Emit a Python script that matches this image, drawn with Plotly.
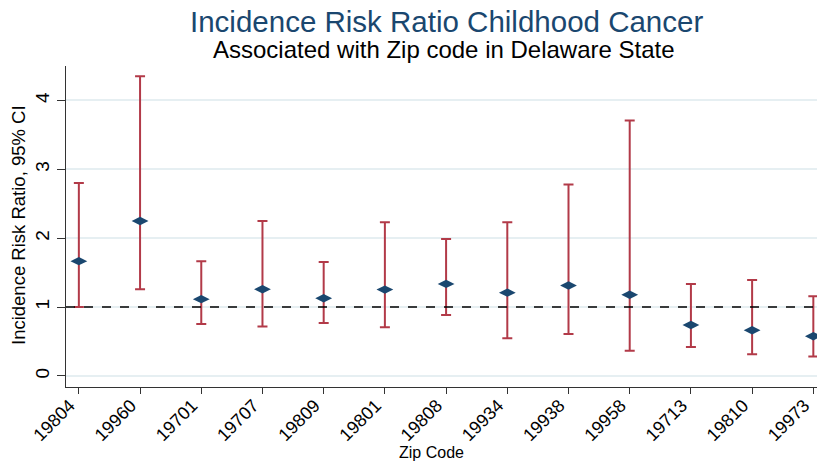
import plotly.graph_objects as go

zips = ["19804", "19960", "19701", "19707", "19809", "19801", "19808",
        "19934", "19938", "19958", "19713", "19810", "19973"]
irr = [1.667, 2.25, 1.115, 1.26, 1.129, 1.254, 1.337, 1.21, 1.313, 1.18, 0.741, 0.664, 0.577]
ci_low = [1.0, 1.26, 0.756, 0.717, 0.770, 0.707, 0.887, 0.547, 0.61, 0.368, 0.42, 0.315, 0.281]
ci_high = [2.80, 4.35, 1.667, 2.25, 1.653, 2.23, 1.99, 2.23, 2.78, 3.71, 1.337, 1.395, 1.158]
y_ticks = [0, 1, 2, 3, 4]
ref_value = 1

FONT = "Liberation Sans, Arial, sans-serif"
x_idx = list(range(len(zips)))

L, T, B = 66, 66, 76
W, H = 817, 463

fig = go.Figure()
fig.add_trace(go.Scatter(
    x=x_idx, y=irr, mode="markers",
    marker=dict(symbol="diamond-wide", size=12, color="#1a476f"),
    error_y=dict(type="data", symmetric=False,
                 array=[h - v for h, v in zip(ci_high, irr)],
                 arrayminus=[v - l for v, l in zip(irr, ci_low)],
                 color="#b23a48", thickness=2, width=5),
    showlegend=False,
))

fig.add_hline(y=ref_value, line=dict(color="black", width=1.5, dash="dash"), layer="above")

annots = [
    dict(text="Incidence Risk Ratio Childhood Cancer", xref="paper", yref="paper",
         x=0, y=1, xanchor="center", yanchor="middle", xshift=446 - L, yshift=T - 21,
         showarrow=False, font=dict(size=29.5, color="#1a476f")),
    dict(text="Associated with Zip code in Delaware State", xref="paper", yref="paper",
         x=0, y=1, xanchor="center", yanchor="middle", xshift=444 - L, yshift=T - 49,
         showarrow=False, font=dict(size=24, color="black")),
    dict(text="Zip Code", xref="paper", yref="paper",
         x=0, y=0, xanchor="center", yanchor="middle", xshift=431 - L, yshift=-(452 - (H - B)),
         showarrow=False, font=dict(size=16, color="black")),
    dict(text="Incidence Risk Ratio, 95% CI", xref="paper", yref="paper",
         x=0, y=0, xanchor="center", yanchor="middle", xshift=18 - L, yshift=(H - B) - 225,
         textangle=-90, showarrow=False, font=dict(size=18.5, color="black")),
]

fig.update_layout(
    width=W, height=H,
    margin=dict(l=L, r=0, t=T, b=B, autoexpand=False),
    paper_bgcolor="white", plot_bgcolor="white",
    font=dict(family=FONT, color="black"),
    annotations=annots,
    xaxis=dict(range=[-0.21, 12.06], tickmode="array", tickvals=x_idx, ticktext=zips,
               tickangle=-45, ticks="outside", ticklen=6, tickcolor="#333",
               showline=True, linecolor="#333", linewidth=1, showgrid=False, zeroline=False,
               tickfont=dict(size=18), automargin=False, ticklabeloverflow="allow",
               ticklabelstandoff=-6, ticklabelshift=-9),
    yaxis=dict(range=[-0.16, 4.5], tickmode="array", tickvals=y_ticks,
               tickangle=-90, ticks="outside", ticklen=8, tickcolor="#333",
               showline=True, linecolor="#333", linewidth=1,
               showgrid=True, gridcolor="#e6eff2", gridwidth=1.5, zeroline=False,
               tickfont=dict(size=19), automargin=False),
)

fig.write_html("out.html", config={"displayModeBar": False},
               post_script="document.body.style.margin='0';document.body.style.overflow='hidden';")
